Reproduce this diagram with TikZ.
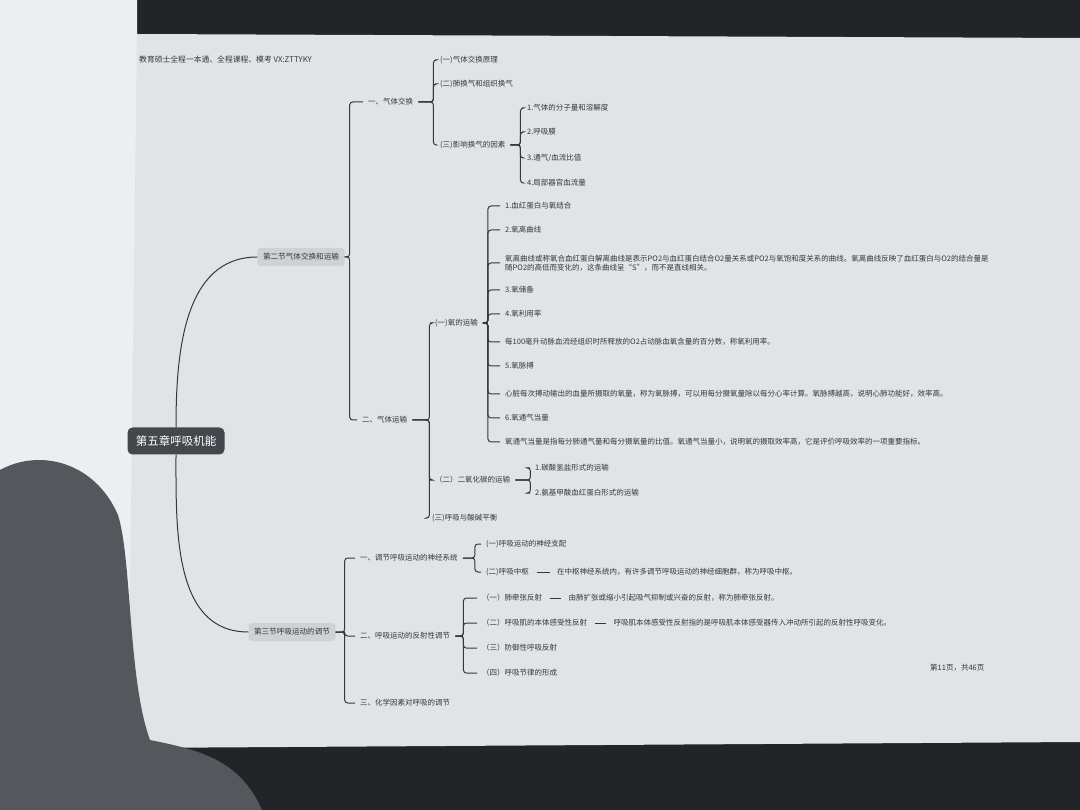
\documentclass[tikz,border=0pt]{standalone}
\usepackage{fontspec}
\newfontfamily\cjk{Noto Sans CJK SC}
\usetikzlibrary{positioning}
\definecolor{ink}{RGB}{52,55,60}
\definecolor{paper}{RGB}{225,227,231}
\definecolor{leftpaper}{RGB}{236,238,241}
\definecolor{desk}{RGB}{34,36,40}
\definecolor{handshadow}{RGB}{84,87,92}
\definecolor{rootfill}{RGB}{68,71,76}
\definecolor{sectfill}{RGB}{207,209,213}

\begin{document}
\begin{tikzpicture}[x=1pt,y=-1pt,
 item/.style={anchor=west,inner xsep=5pt,inner ysep=1pt,text=ink,align=left,font=\cjk\fontsize{7.5}{9.5}\selectfont},
 sect/.style={fill=sectfill,rounded corners=3pt,text=ink,inner xsep=5.5pt,minimum height=18pt,font=\cjk\fontsize{7.6}{9}\selectfont},
 root/.style={fill=rootfill,rounded corners=5pt,text=white,minimum width=97pt,minimum height=27pt,font=\cjk\fontsize{11.5}{13}\selectfont},
 branch/.style={draw=ink,line width=1pt,rounded corners=3pt},
 lead/.style={draw=ink,line width=1pt,shorten <=3pt,shorten >=2pt}]
\useasboundingbox (0,0) rectangle (1080,810);
% photo of the printed page
\fill[desk] (0,0) rectangle (1080,810);
\fill[leftpaper] (0,0) -- (137,0) -- (139,748) -- (0,748) -- cycle;
\fill[paper] (137,34) -- (1080,38) -- (1080,742) -- (128,748) -- cycle;
\fill[handshadow] (0,470) .. controls (40,448) and (95,462) .. (118,515) .. controls (132,560) and (128,680) .. (150,740) .. controls (200,750) and (240,760) .. (262,810) -- (0,810) -- cycle;
\node[item,font=\cjk\fontsize{7.8}{9}\selectfont] (head) at (134,60) {教育硕士全程一本通、全程课程、模考 VX:ZTTYKY};
\node[item] (foot) at (925,668) {第11页，共46页};

% chapter and sections
\node[root] (root) at (176,441) {第五章呼吸机能};
\node[sect] (sec2) at (301,257) {第二节气体交换和运输};
\node[sect] (sec3) at (292,632) {第三节呼吸运动的调节};
\draw[draw=ink,line width=1pt] (root.north) to[out=90,in=180] (sec2.west);
\draw[draw=ink,line width=1pt] (root.south) to[out=-90,in=180] (sec3.west);

% section two
\node[item] (a1) at (363,102) {一、气体交换};
\node[item] (a2) at (357,420) {二、气体运输};
\node[item] (b1) at (435,60) {(一)气体交换原理};
\node[item] (b2) at (435,84) {(二)肺换气和组织换气};
\node[item] (b3) at (435,145) {(三)影响换气的因素};
\node[item] (c1) at (522,108) {1.气体的分子量和溶解度};
\node[item] (c2) at (522,132) {2.呼吸膜};
\node[item] (c3) at (522,158) {3.通气/血流比值};
\node[item] (c4) at (522,183) {4.局部器官血流量};
\node[item] (b4) at (430,323) {(一)氧的运输};
\node[item] (b5) at (430,480) {（二）二氧化碳的运输};
\node[item] (b6) at (427,518) {(三)呼吸与酸碱平衡};
\node[item] (d1) at (500,206) {1.血红蛋白与氧结合};
\node[item] (d2) at (500,230) {2.氧离曲线};
\node[item] (d3) at (500,263) {氧离曲线或称氧合血红蛋白解离曲线是表示PO2与血红蛋白结合O2量关系或PO2与氧饱和度关系的曲线。氧离曲线反映了血红蛋白与O2的结合量是\\随PO2的高低而变化的，这条曲线呈“S”，而不是直线相关。};
\node[item] (d4) at (500,290) {3.氧储备};
\node[item] (d5) at (500,314) {4.氧利用率};
\node[item] (d6) at (500,342) {每100毫升动脉血流经组织时所释放的O2占动脉血氧含量的百分数，称氧利用率。};
\node[item] (d7) at (500,366) {5.氧脉搏};
\node[item] (d8) at (500,394) {心脏每次搏动输出的血量所摄取的氧量，称为氧脉搏，可以用每分摄氧量除以每分心率计算。氧脉搏越高，说明心肺功能好，效率高。};
\node[item] (d9) at (500,418) {6.氧通气当量};
\node[item] (d10) at (500,442) {氧通气当量是指每分肺通气量和每分摄氧量的比值。氧通气当量小，说明氧的摄取效率高，它是评价呼吸效率的一项重要指标。};
\node[item] (f1) at (530,468) {1.碳酸氢盐形式的运输};
\node[item] (f2) at (530,493) {2.氨基甲酸血红蛋白形式的运输};

\draw[branch] (sec2.east) -- ++(5,0) |- (a1.west);
\draw[branch] (sec2.east) -- ++(5,0) |- (a2.west);
\draw[branch] (a1.east) -- ++(15,0) |- (b1.west);
\draw[branch] (a1.east) -- ++(15,0) |- (b2.west);
\draw[branch] (a1.east) -- ++(15,0) |- (b3.west);
\draw[branch] (b3.east) -- ++(10,0) |- (c1.west);
\draw[branch] (b3.east) -- ++(10,0) |- (c2.west);
\draw[branch] (b3.east) -- ++(10,0) |- (c3.west);
\draw[branch] (b3.east) -- ++(10,0) |- (c4.west);
\draw[branch] (a2.east) -- ++(17,0) |- (b4.west);
\draw[branch] (a2.east) -- ++(17,0) |- (b5.west);
\draw[branch] (a2.east) -- ++(17,0) |- (b6.west);
\draw[branch] (b4.east) -- ++(5,0) |- (d1.west);
\draw[branch] (b4.east) -- ++(5,0) |- (d2.west);
\draw[branch] (b4.east) -- ++(5,0) |- (d3.west);
\draw[branch] (b4.east) -- ++(5,0) |- (d4.west);
\draw[branch] (b4.east) -- ++(5,0) |- (d5.west);
\draw[branch] (b4.east) -- ++(5,0) |- (d6.west);
\draw[branch] (b4.east) -- ++(5,0) |- (d7.west);
\draw[branch] (b4.east) -- ++(5,0) |- (d8.west);
\draw[branch] (b4.east) -- ++(5,0) |- (d9.west);
\draw[branch] (b4.east) -- ++(5,0) |- (d10.west);
\draw[branch] (b5.east) -- ++(15,0) |- (f1.west);
\draw[branch] (b5.east) -- ++(15,0) |- (f2.west);

% section three
\node[item] (e1) at (355,558) {一、调节呼吸运动的神经系统};
\node[item] (e2) at (355,636) {二、呼吸运动的反射性调节};
\node[item] (e3) at (355,703) {三、化学因素对呼吸的调节};
\node[item] (g1) at (481,544) {(一)呼吸运动的神经支配};
\node[item] (g2) at (481,572) {(二)呼吸中枢};
\node[item,right=18pt of g2] (g2d) {在中枢神经系统内，有许多调节呼吸运动的神经细胞群，称为呼吸中枢。};
\node[item] (h1) at (477,598) {（一）肺牵张反射};
\node[item,right=16pt of h1] (h1d) {由肺扩张或缩小引起吸气抑制或兴奋的反射，称为肺牵张反射。};
\node[item] (h2) at (477,623) {（二）呼吸肌的本体感受性反射};
\node[item,right=16pt of h2] (h2d) {呼吸肌本体感受性反射指的是呼吸肌本体感受器传入冲动所引起的反射性呼吸变化。};
\node[item] (h3) at (477,648) {（三）防御性呼吸反射};
\node[item] (h4) at (477,673) {（四）呼吸节律的形成};

\draw[branch] (sec3.east) -- ++(9,0) |- (e1.west);
\draw[branch] (sec3.east) -- ++(9,0) |- (e2.west);
\draw[branch] (sec3.east) -- ++(9,0) |- (e3.west);
\draw[branch] (e1.east) -- ++(12,0) |- (g1.west);
\draw[branch] (e1.east) -- ++(12,0) |- (g2.west);
\draw[branch] (e2.east) -- ++(8,0) |- (h1.west);
\draw[branch] (e2.east) -- ++(8,0) |- (h2.west);
\draw[branch] (e2.east) -- ++(8,0) |- (h3.west);
\draw[branch] (e2.east) -- ++(8,0) |- (h4.west);
\draw[lead] (g2.east) -- (g2d.west);
\draw[lead] (h1.east) -- (h1d.west);
\draw[lead] (h2.east) -- (h2d.west);
\end{tikzpicture}
\end{document}
